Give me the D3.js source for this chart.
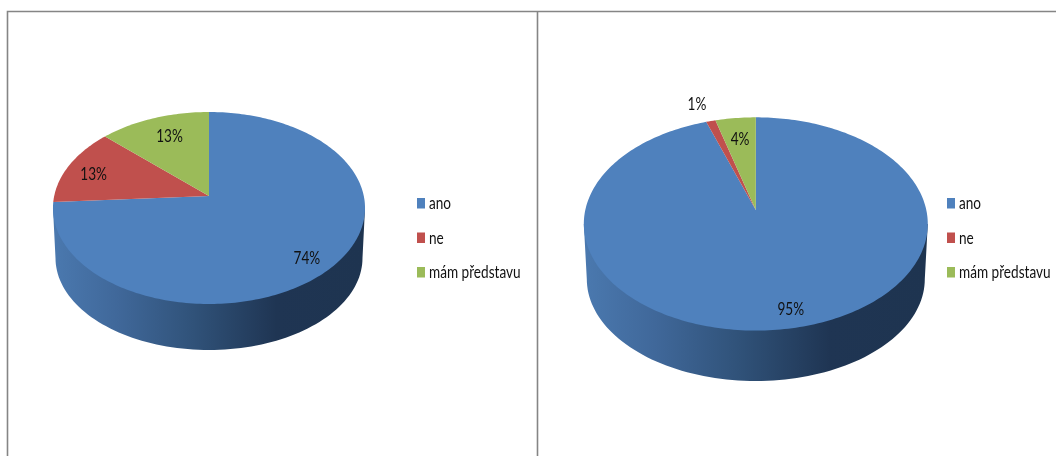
<!DOCTYPE html>
<html><head><meta charset="utf-8">
<script src="https://cdnjs.cloudflare.com/ajax/libs/d3/7.8.5/d3.min.js"></script>
<style>html,body{margin:0;padding:0;background:#fff;overflow:hidden}svg{display:block;filter:blur(.45px)}
text{font-family:Lato,"Open Sans",sans-serif;fill:#111}</style></head>
<body><svg id="c" width="1056" height="456"></svg>
<script>
const categories = ["ano", "ne", "mám představu"];
const valuesLeft = [74, 13, 13];
const valuesRight = [94.7, 1.0, 4.3];
const colors = ["#4f81bd", "#c0504d", "#9bbb59"];

const charts = [
 {values: valuesLeft, cx: 209, cy: 196, rx: 154.8, ry: 94.5, k: .125, bx: 153.5, by: 92, bcy: 258, topCy: 208,
  lf: [.8, .82, .75], lo: [[1, 6], [0, 3], [3, 0]], legX: 417},
 {values: valuesRight, cx: 755.8, cy: 210, rx: 170.5, ry: 104.8, k: .131, bx: 169, by: 102, bcy: 279, topCy: 224,
  lf: [.85, 1.2, .75], lo: [[8, 0], [-6, -2], [0, 0]], legX: 947}
];
const squeeze = .8;

const svg = d3.select("#c");
const defs = svg.append("defs");
const pieGen = d3.pie().sort(null).startAngle(0).endAngle(2 * Math.PI);
const fmt = v => d3.format(".0f")(v) + "%";

// frame
const frame = d3.path();
frame.moveTo(7.5, 456); frame.lineTo(7.5, 11.5); frame.lineTo(1056, 11.5);
frame.moveTo(537.5, 11.5); frame.lineTo(537.5, 456);
svg.append("path").attr("d", frame.toString()).attr("fill", "none").attr("stroke", "#858585").attr("stroke-width", 1.6);

charts.forEach((c, i) => {
  const g = svg.append("g");
  const proj = (t, f = 1) => {
    const d = 1 + c.k * f * Math.cos(t);
    return [c.cx + f * c.rx * Math.sin(t) / d, c.cy - f * c.ry * Math.cos(t) / d];
  };
  const line = d3.line();

  // side wall gradient
  const gid = "side" + i;
  const x = d3.scaleLinear().domain([0, 1]).range([c.cx - c.bx, c.cx + c.bx]);
  const gr = defs.append("linearGradient").attr("id", gid).attr("gradientUnits", "userSpaceOnUse")
    .attr("x1", x(0)).attr("x2", x(1)).attr("y1", 0).attr("y2", 0);
  [[0, "#4a78ae"], [.2, "#40689a"], [.45, "#305279"], [.72, "#1f3553"], [1, "#1e3450"]]
    .forEach(s => gr.append("stop").attr("offset", s[0]).attr("stop-color", s[1]));

  const rimMax = c.rx / Math.sqrt(1 - c.k * c.k);
  const arcPts = d3.range(0, 181, 2).map(a => {
    const t = a * Math.PI / 180;
    return [c.cx + c.bx * Math.cos(t), c.bcy + c.by * Math.sin(t)];
  });
  const wall = [[c.cx + rimMax, c.topCy], ...arcPts, [c.cx - rimMax, c.topCy]];
  g.append("path").attr("d", line(wall)).attr("fill", `url(#${gid})`);

  // top slices
  const arcs = pieGen(c.values);
  g.selectAll("path.s").data(arcs).join("path").attr("class", "s")
    .attr("fill", (d, j) => colors[j])
    .attr("d", d => {
      const n = Math.max(2, Math.ceil((d.endAngle - d.startAngle) / .02));
      const pts = d3.range(n + 1).map(j => proj(d.startAngle + (d.endAngle - d.startAngle) * j / n));
      return line([[c.cx, c.cy], ...pts]) + "Z";
    });

  // data labels
  g.selectAll("text.l").data(arcs).join("text").attr("class", "l")
    .attr("text-anchor", "middle").attr("font-size", 17)
    .attr("transform", (d, j) => {
      const p = proj((d.startAngle + d.endAngle) / 2, c.lf[j]);
      return `translate(${p[0] + c.lo[j][0]},${p[1] + c.lo[j][1] + 6}) scale(${squeeze},1)`;
    })
    .text(d => fmt(d.value));

  // legend
  const ly = d3.scalePoint().domain(categories).range([203, 272]);
  const lg = g.selectAll("g.leg").data(categories).join("g").attr("class", "leg")
    .attr("transform", d => `translate(${c.legX},${ly(d)})`);
  lg.append("rect").attr("x", 0).attr("y", -5).attr("width", 8).attr("height", 10.5)
    .attr("fill", (d, j) => colors[j]);
  lg.append("text").attr("transform", `translate(12,6) scale(${squeeze},1)`).attr("font-size", 17).text(d => d);
});
</script></body></html>
